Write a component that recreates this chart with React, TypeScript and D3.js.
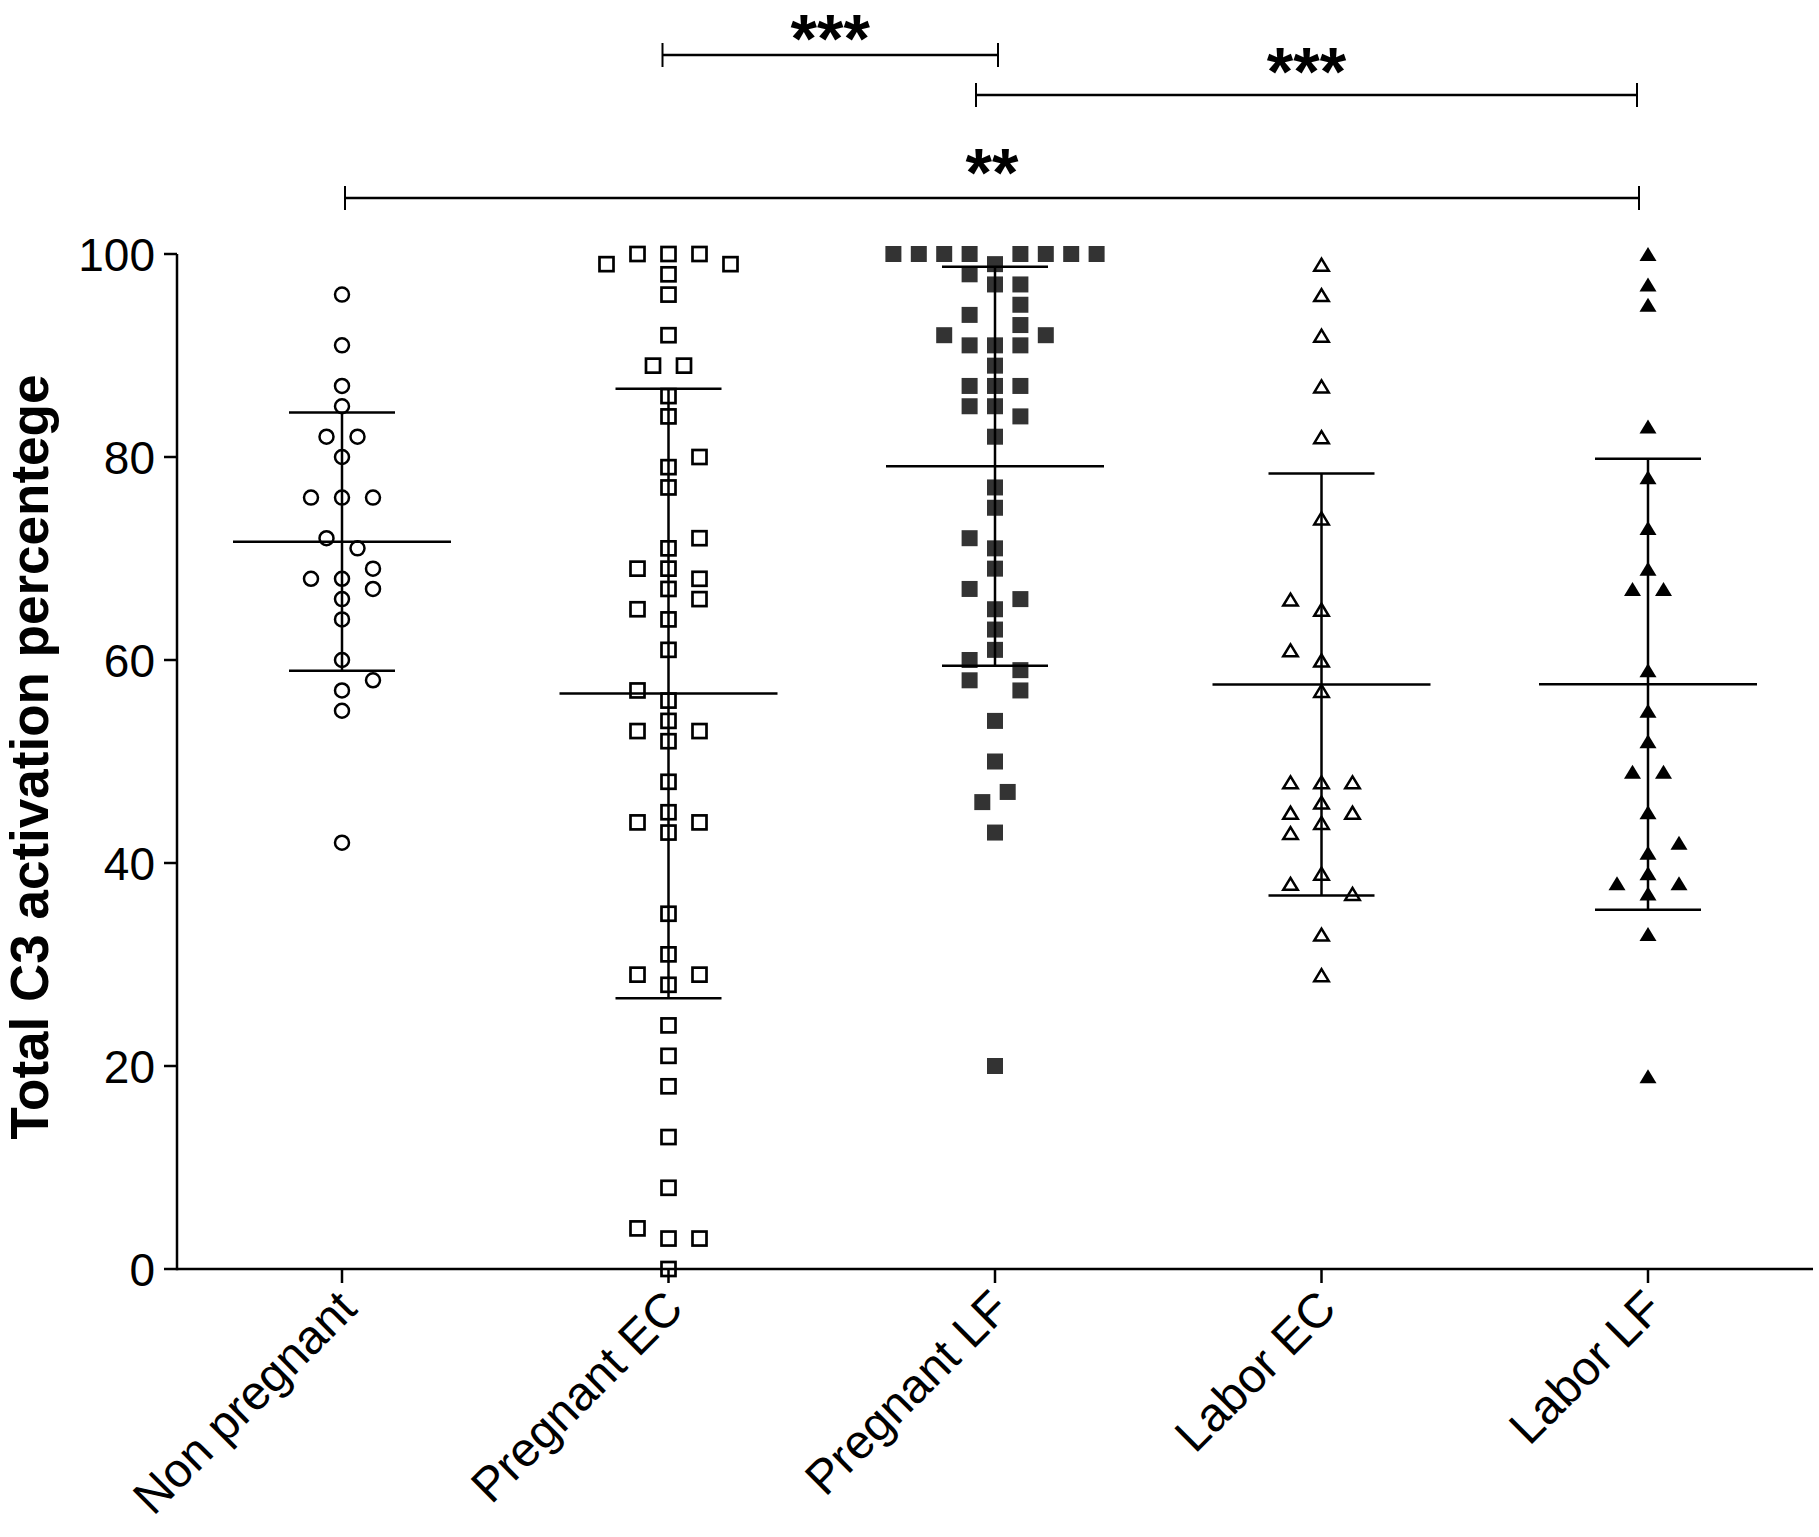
import React from 'react';
import * as d3 from 'd3';

// ---------------- data ----------------
const categories = ['Non pregnant', 'Pregnant EC', 'Pregnant LF', 'Labor EC', 'Labor LF'];
const yTickValues = [0, 20, 40, 60, 80, 100];
const yAxisTitle = 'Total C3 activation percentege';

const nonPregnantValues = [96, 91, 87, 85, 82, 82, 80, 76, 76, 76, 72, 71, 69, 68, 68, 67, 66, 64, 60, 58, 57, 55, 42];
const nonPregnantLanes = [0, 0, 0, 0, -1, 1, 0, -2, 0, 2, -1, 1, 2, -2, 0, 2, 0, 0, 0, 2, 0, 0, 0];

const pregnantECValues = [
  100, 100, 100, 99, 99, 98, 96, 92, 89, 89,
  86, 84, 80, 79, 77, 72, 71, 69, 69, 68,
  67, 66, 65, 64, 61, 57, 56, 54, 53, 53,
  52, 48, 45, 44, 44, 43, 35, 31, 29, 29,
  28, 24, 21, 18, 13, 8, 4, 3, 3, 0,
];
const pregnantECLanes = [
  -2, 0, 2, -4, 4, 0, 0, 0, -1, 1,
  0, 0, 2, 0, 0, 2, 0, -2, 0, 2,
  0, 2, -2, 0, 0, -2, 0, 0, -2, 2,
  0, 0, 0, -2, 2, 0, 0, 0, -2, 2,
  0, 0, 0, 0, 0, 0, -2, 0, 2, 0,
];

const pregnantLFValues = [
  100, 100, 100, 100, 100, 100, 100, 100, 99, 98,
  97, 97, 95, 94, 93, 92, 92, 91, 91, 91,
  89, 87, 87, 87, 85, 85, 84, 82, 77, 75,
  72, 71, 69, 67, 66, 65, 63, 61, 60, 59,
  58, 57, 54, 50, 47, 46, 43, 20,
];
const pregnantLFLanes = [
  -4, -3, -2, -1, 1, 2, 3, 4, 0, -1,
  0, 1, 1, -1, 1, -2, 2, -1, 0, 1,
  0, -1, 0, 1, -1, 0, 1, 0, 0, 0,
  -1, 0, 0, -1, 1, 0, 0, 0, -1, 1,
  -1, 1, 0, 0, 0.5, -0.5, 0, 0,
];

const laborECValues = [99, 96, 92, 87, 82, 74, 66, 65, 61, 60, 57, 48, 48, 48, 46, 45, 45, 44, 43, 39, 38, 37, 33, 29];
const laborECLanes = [0, 0, 0, 0, 0, 0, -2, 0, -2, 0, 0, -2, 0, 2, 0, -2, 2, 0, -2, 0, -2, 2, 0, 0];

const laborLFValues = [100, 97, 95, 83, 78, 73, 69, 67, 67, 59, 55, 52, 49, 49, 45, 42, 41, 39, 38, 38, 37, 33, 19];
const laborLFLanes = [0, 0, 0, 0, 0, 0, 0, -1, 1, 0, 0, 0, -1, 1, 0, 2, 0, 0, -2, 2, 0, 0, 0];

const sigFrom = ['Pregnant EC', 'Pregnant LF', 'Non pregnant'];
const sigTo = ['Pregnant LF', 'Labor LF', 'Labor LF'];
const sigLabels = ['***', '***', '**'];

// ---------------- layout / style ----------------
const W = 1819;
const H = 1537;
const axisX = 177;
const axisRight = 1813;
const plotTop = 254;
const plotBottom = 1269;
const font = '"Liberation Sans", Arial, Helvetica, sans-serif';

const groupValues = [nonPregnantValues, pregnantECValues, pregnantLFValues, laborECValues, laborLFValues];
const groupLanes = [nonPregnantLanes, pregnantECLanes, pregnantLFLanes, laborECLanes, laborLFLanes];
const groupMarker = ['openCircle', 'openSquare', 'filledSquare', 'openTriangle', 'filledTriangle'];
const laneWidth = [15.5, 15.5, 25.4, 15.5, 15.5];
const sigLevelY = [55, 95, 198];
const sigLabelDy = [7, 0, -2];
const sigEndNudge = [[-6, 3], [-19, -11], [3, -9]];

const y = d3.scaleLinear().domain([0, 100]).range([plotBottom, plotTop]);
const x = d3.scalePoint<string>().domain(categories).range([342, 1648]);

const triPath = (w: number, h: number) => {
  const p = d3.path();
  p.moveTo(0, -h / 2);
  p.lineTo(w / 2, h / 2);
  p.lineTo(-w / 2, h / 2);
  p.closePath();
  return p.toString();
};

function Marker({ kind, cx, cy }: { kind: string; cx: number; cy: number }) {
  switch (kind) {
    case 'openCircle':
      return <circle cx={cx} cy={cy} r={7} fill="none" stroke="#000" strokeWidth={2.5} />;
    case 'openSquare':
      return <rect x={cx - 7} y={cy - 7} width={14} height={14} fill="none" stroke="#000" strokeWidth={2.7} />;
    case 'filledSquare':
      return <rect x={cx - 8} y={cy - 8} width={16} height={16} fill="#333333" />;
    case 'openTriangle':
      return (
        <path
          d={triPath(14.5, 12)}
          transform={`translate(${cx},${cy + 0.5})`}
          fill="none"
          stroke="#000"
          strokeWidth={2.5}
          strokeLinejoin="miter"
        />
      );
    default:
      return <path d={triPath(17, 14)} transform={`translate(${cx},${cy})`} fill="#000" />;
  }
}

export default function App() {
  return (
    <svg
      width={W}
      height={H}
      viewBox={`0 0 ${W} ${H}`}
      style={{ position: 'absolute', left: 0, top: 0, background: '#fff', display: 'block' }}
      fontFamily={font}
    >
      <rect x={0} y={0} width={W} height={H} fill="#fff" />

      {/* y axis */}
      <line x1={axisX} x2={axisX} y1={y(0) + 1.25} y2={y(100)} stroke="#000" strokeWidth={2.5} />
      {yTickValues.map((v) => (
        <g key={`yt${v}`}>
          <line x1={axisX - 13} x2={axisX} y1={y(v)} y2={y(v)} stroke="#000" strokeWidth={2.5} />
          <text x={155} y={y(v)} dy="0.36em" textAnchor="end" fontSize={46} fill="#000">
            {v}
          </text>
        </g>
      ))}
      <text
        transform={`translate(48,757) rotate(-90)`}
        textAnchor="middle"
        fontSize={53}
        fontWeight="bold"
        fill="#000"
      >
        {yAxisTitle}
      </text>

      {/* x axis */}
      <line x1={axisX} x2={axisRight} y1={y(0)} y2={y(0)} stroke="#000" strokeWidth={2.5} />
      {categories.map((c) => (
        <g key={`xt${c}`}>
          <line x1={x(c)} x2={x(c)} y1={y(0)} y2={y(0) + 14} stroke="#000" strokeWidth={2.5} />
          <text
            transform={`translate(${(x(c) as number) + 17},1311) rotate(-45)`}
            textAnchor="end"
            fontSize={48}
            fill="#000"
          >
            {c}
          </text>
        </g>
      ))}

      {/* points and mean ± SD */}
      {categories.map((c, gi) => {
        const cx = x(c) as number;
        const vals = groupValues[gi];
        const lanes = groupLanes[gi];
        const m = d3.mean(vals) as number;
        const sd = d3.deviation(vals) as number;
        return (
          <g key={`g${c}`}>
            {vals.map((v, i) => (
              <Marker key={i} kind={groupMarker[gi]} cx={cx + lanes[i] * laneWidth[gi]} cy={y(v)} />
            ))}
            <line x1={cx} x2={cx} y1={y(m - sd)} y2={y(m + sd)} stroke="#000" strokeWidth={2.5} />
            <line x1={cx - 109} x2={cx + 109} y1={y(m)} y2={y(m)} stroke="#000" strokeWidth={2.5} />
            <line x1={cx - 53} x2={cx + 53} y1={y(m + sd)} y2={y(m + sd)} stroke="#000" strokeWidth={2.5} />
            <line x1={cx - 53} x2={cx + 53} y1={y(m - sd)} y2={y(m - sd)} stroke="#000" strokeWidth={2.5} />
          </g>
        );
      })}

      {/* significance brackets */}
      {sigLabels.map((lab, i) => {
        const x1 = (x(sigFrom[i]) as number) + sigEndNudge[i][0];
        const x2 = (x(sigTo[i]) as number) + sigEndNudge[i][1];
        const yy = sigLevelY[i];
        return (
          <g key={`sig${i}`}>
            <line x1={x1} x2={x2} y1={yy} y2={yy} stroke="#000" strokeWidth={2.5} />
            <line x1={x1} x2={x1} y1={yy - 12} y2={yy + 12} stroke="#000" strokeWidth={2} />
            <line x1={x2} x2={x2} y1={yy - 12} y2={yy + 12} stroke="#000" strokeWidth={2} />
            <text
              x={(x1 + x2) / 2}
              y={yy + sigLabelDy[i]}
              textAnchor="middle"
              fontSize={68}
              fontWeight="bold"
              fill="#000"
            >
              {lab}
            </text>
          </g>
        );
      })}
    </svg>
  );
}
